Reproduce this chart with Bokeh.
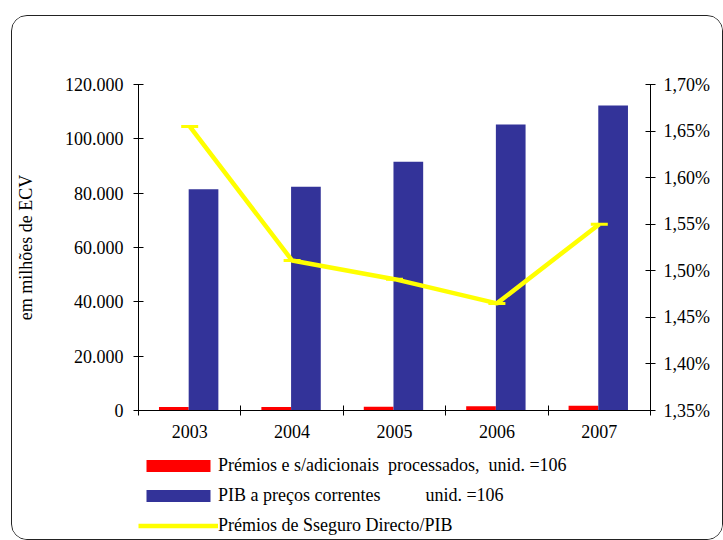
from bokeh.plotting import figure
from bokeh.layouts import column
from bokeh.models import (Range1d, LinearAxis, FixedTicker, CustomJSTickFormatter,
                          ColumnDataSource, Legend, LegendItem)
from bokeh.transform import dodge
from bokeh.embed import file_html
from bokeh.resources import INLINE

# ---- data ----
years = ["2003", "2004", "2005", "2006", "2007"]
premios = [1300, 1250, 1350, 1600, 1750]          # Prémios e s/adicionais processados (10^6)
pib = [81400, 82400, 91600, 105300, 112300]       # PIB a preços correntes (10^6)
ratio = [1.655, 1.511, 1.491, 1.465, 1.550]       # Prémios de Seguro Directo/PIB (%)

y_ticks = [0, 20000, 40000, 60000, 80000, 100000, 120000]
y_labels = ["0", "20.000", "40.000", "60.000", "80.000", "100.000", "120.000"]
pct_ticks = [1.35, 1.40, 1.45, 1.50, 1.55, 1.60, 1.65, 1.70]
pct_labels = ["1,35%", "1,40%", "1,45%", "1,50%", "1,55%", "1,60%", "1,65%", "1,70%"]

y_axis_title = "em milhões de ECV"
legend_labels = ["Prémios e s/adicionais  processados,  unid. =106",
                 "PIB a preços correntes          unid. =106",
                 "Prémios de Sseguro Directo/PIB"]
colors = ["#FF0000", "#333399", "#FFFF00"]

FONT = "Liberation Serif"

# ---- layout (pixels) ----
W = 710
H1, H2 = 434, 89

centers = [i + 0.5 for i in range(len(years))]
src = ColumnDataSource(dict(x=centers, premios=premios, pib=pib, ratio=ratio))

p = figure(width=W, height=H1, x_range=Range1d(0, len(years)),
           y_range=Range1d(y_ticks[0], y_ticks[-1]),
           output_backend="svg", toolbar_location=None,
           min_border_left=126, min_border_right=72, min_border_top=68, min_border_bottom=40)
p.xaxis.visible = False
p.yaxis.visible = False
p.xgrid.visible = False
p.ygrid.visible = False
p.outline_line_color = None
p.background_fill_color = "white"
p.border_fill_color = "white"
p.extra_y_ranges = {"pct": Range1d(pct_ticks[0], pct_ticks[-1])}

p.vbar(x=dodge("x", -0.155, range=p.x_range), top="premios", width=0.29, bottom=0,
       source=src, fill_color=colors[0], line_color=None)
p.vbar(x=dodge("x", 0.135, range=p.x_range), top="pib", width=0.29, bottom=0,
       source=src, fill_color=colors[1], line_color=None)
p.line(x="x", y="ratio", source=src, y_range_name="pct", line_color=colors[2], line_width=4.5)
p.scatter(x="x", y="ratio", source=src, y_range_name="pct", marker="dash", size=17,
          line_color=colors[2], line_width=3)

def style_axis(ax, size="18px"):
    ax.major_label_text_font = FONT
    ax.major_label_text_font_size = size
    ax.major_label_text_color = "black"
    ax.axis_line_color = "black"
    ax.major_tick_line_color = "black"
    ax.minor_tick_line_color = "black"
    ax.major_tick_in = 5
    ax.major_tick_out = 5

# left axis
yl = LinearAxis(ticker=FixedTicker(ticks=y_ticks, minor_ticks=[]),
                formatter=CustomJSTickFormatter(args=dict(t=y_ticks, l=y_labels),
                                                code="const i=t.indexOf(tick); return i>=0 ? l[i] : '';"))
style_axis(yl)
yl.major_label_standoff = 10
yl.axis_label = y_axis_title
yl.axis_label_text_font = FONT
yl.axis_label_text_font_size = "18px"
yl.axis_label_text_font_style = "normal"
yl.axis_label_text_color = "black"
yl.axis_label_standoff = 26
p.add_layout(yl, "left")

# right axis
yr = LinearAxis(y_range_name="pct", ticker=FixedTicker(ticks=pct_ticks, minor_ticks=[]),
                formatter=CustomJSTickFormatter(args=dict(t=pct_ticks, l=pct_labels),
                                                code="const i=t.indexOf(tick); return i>=0 ? l[i] : '';"))
style_axis(yr)
yr.major_label_standoff = 8
p.add_layout(yr, "right")

# category axis: labels at category centres, tick marks at the boundaries
xb = LinearAxis(ticker=FixedTicker(ticks=centers, minor_ticks=list(range(len(years) + 1))),
                formatter=CustomJSTickFormatter(args=dict(y=years),
                                                code="return y[Math.floor(tick)];"))
style_axis(xb)
xb.major_tick_line_color = None
xb.minor_tick_in = 5
xb.minor_tick_out = 5
xb.major_label_standoff = 9
p.add_layout(xb, "below")

# ---- legend panel (its frame is aligned with the chart's frame) ----
q = figure(width=W, height=H2, x_range=Range1d(0, 1), y_range=Range1d(0, 1),
           output_backend="svg", toolbar_location=None,
           min_border_left=0, min_border_right=0, min_border_top=0, min_border_bottom=0)
q.xaxis.visible = False
q.yaxis.visible = False
q.xgrid.visible = False
q.ygrid.visible = False
q.outline_line_color = None
q.background_fill_color = "white"
q.border_fill_color = "white"
# legend keys: the same series, hidden in this panel
k1 = q.vbar(x="x", top="premios", source=src, width=0.29, fill_color=colors[0], line_color=None, visible=False)
k2 = q.vbar(x="x", top="pib", source=src, width=0.29, fill_color=colors[1], line_color=None, visible=False)
k3 = q.line(x="x", y="ratio", source=src, line_color=colors[2], line_width=4.5, visible=False)

legend = Legend(items=[LegendItem(label=legend_labels[0], renderers=[k1]),
                       LegendItem(label=legend_labels[1], renderers=[k2]),
                       LegendItem(label=legend_labels[2], renderers=[k3])],
                location=(0, 3), orientation="vertical")
legend.label_text_font = FONT
legend.label_text_font_size = "18px"
legend.label_text_color = "black"
legend.glyph_width = 80
legend.glyph_height = 15
legend.label_height = 20
legend.spacing = 9
legend.padding = 3
legend.margin = 0
legend.label_standoff = 0
legend.border_line_color = None
legend.background_fill_alpha = 0
legend.inactive_fill_alpha = 0
q.add_layout(legend, "center")

lay = column(p, q, spacing=0)
lay.margin = (15, 0, 0, 11)
lay.styles = {"border": "1px solid #222", "border-radius": "16px", "overflow": "hidden",
              "background-color": "white"}

open("out.html", "w").write(file_html(lay, INLINE))
